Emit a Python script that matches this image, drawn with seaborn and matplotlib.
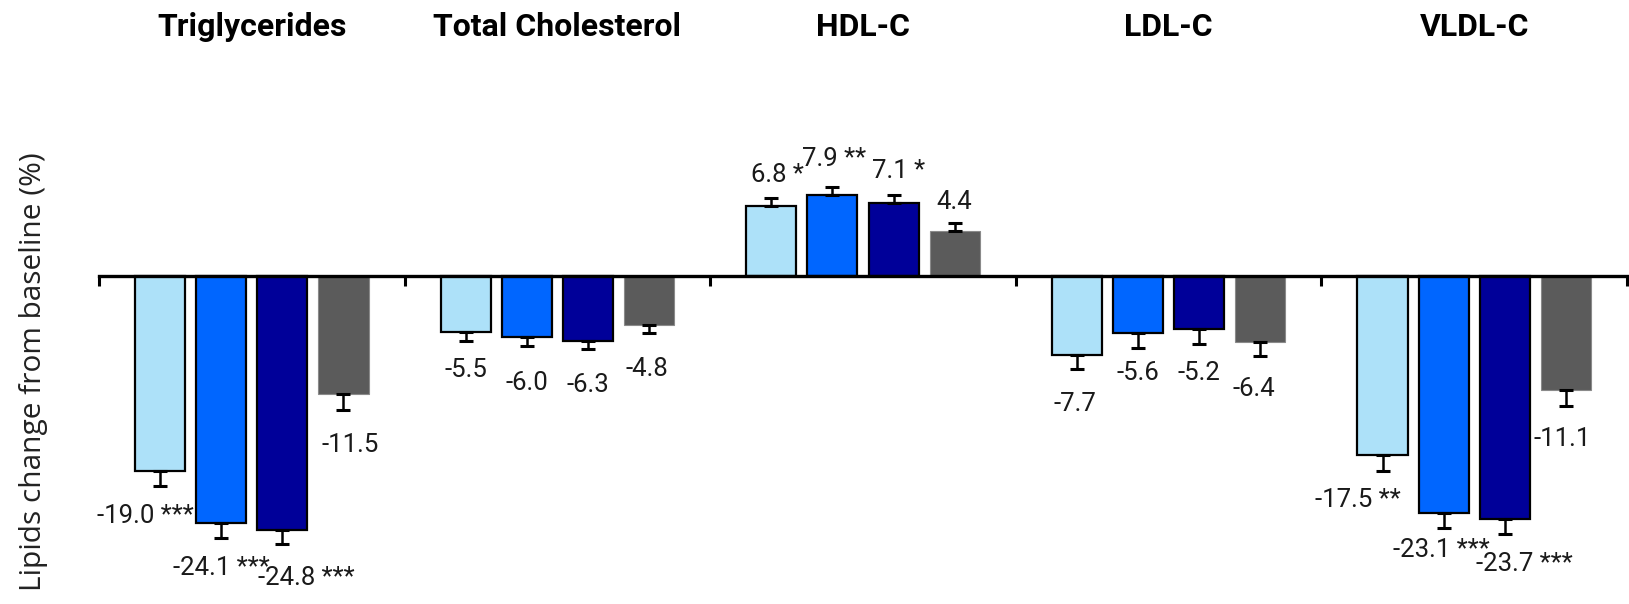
import matplotlib
matplotlib.use("Agg")
import matplotlib.pyplot as plt
import matplotlib.transforms as mtransforms
import numpy as np
import pandas as pd
import seaborn as sns

# Lipid parameters (panels) and treatment arms
lipids = ["Triglycerides", "Total Cholesterol", "HDL-C", "LDL-C", "VLDL-C"]
arms = ["Arm 1", "Arm 2", "Arm 3", "Arm 4"]

# Mean % change from baseline per arm, in lipid order
arm1_change = [-19.0, -5.5, 6.8, -7.7, -17.5]
arm2_change = [-24.1, -6.0, 7.9, -5.6, -23.1]
arm3_change = [-24.8, -6.3, 7.1, -5.2, -23.7]
arm4_change = [-11.5, -4.8, 4.4, -6.4, -11.1]

# Standard error per arm
arm1_se = [1.5, 0.8, 0.8, 1.4, 1.5]
arm2_se = [1.5, 0.8, 0.8, 1.4, 1.5]
arm3_se = [1.4, 0.85, 0.8, 1.4, 1.5]
arm4_se = [1.6, 0.8, 0.75, 1.4, 1.6]

# Significance markers per arm
arm1_sig = ["***", "", "*", "", "**"]
arm2_sig = ["***", "", "**", "", "***"]
arm3_sig = ["***", "", "*", "", "***"]
arm4_sig = ["", "", "", "", ""]

changes = [arm1_change, arm2_change, arm3_change, arm4_change]
errors = [arm1_se, arm2_se, arm3_se, arm4_se]
sigs = [arm1_sig, arm2_sig, arm3_sig, arm4_sig]

# Nudges (points) for value labels so neighbours don't collide
label_dx = [
    [-10.5, 0, 4.5, -1.5, -18],
    [0, 0, 1.5, 0, -1.5],
    [17, 0, 3.7, 0, 14],
    [4.5, -1.5, 0, -4.5, -3],
]
label_dy = [
    [0, 0, -1.5, -3.5, 0],
    [0, -5.5, 1.5, 3, 5.5],
    [-3, -4.5, -1.5, 0, 0],
    [-3.5, -4.5, -3, -2, -2],
]

colors = ["#ADE1F9", "#0066FF", "#000099", "#5B5B5B"]

df = pd.DataFrame(
    [(lip, arm, changes[j][i]) for j, arm in enumerate(arms) for i, lip in enumerate(lipids)],
    columns=["lipid", "arm", "change"],
)

sns.set_theme(style="white")
plt.rcParams["font.family"] = ["Roboto", "DejaVu Sans"]

W, H = 1629, 604
fig = plt.figure(figsize=(W / 100, H / 100), dpi=100)
ax = fig.add_axes([99 / W, 0, 1528 / W, 1])

sns.barplot(
    data=df, x="lipid", y="change", hue="arm", order=lipids, hue_order=arms,
    palette=colors, saturation=1, width=0.8, gap=0.18, errorbar=None,
    edgecolor="black", linewidth=1.6, legend=False, ax=ax,
)

bar_groups = list(ax.containers)
for j, cont in enumerate(bar_groups):
    for i, patch in enumerate(cont.patches):
        if j == 3:
            patch.set_edgecolor("#8A8A8A")
            patch.set_linewidth(0.8)
        v = changes[j][i]
        e = errors[j][i]
        xc = patch.get_x() + patch.get_width() / 2
        yerr = [[e], [0]] if v < 0 else [[0], [e]]
        ax.errorbar(xc, v, yerr=yerr, fmt="none", ecolor="black",
                    elinewidth=1.8, capsize=5.2, capthick=2.2, zorder=3)
        end = v - e if v < 0 else v + e
        dy = (-21.5 if v < 0 else 18.5) + label_dy[j][i]
        txt = f"{v:.1f}" + (f" {sigs[j][i]}" if sigs[j][i] else "")
        ax.annotate(txt, xy=(xc, end), xytext=(label_dx[j][i], dy),
                    textcoords="offset points", ha="center", va="center",
                    fontsize=18.5, color="#1a1a1a")

ax.set_xlim(-0.5, 4.5)
ax.set_ylim(-32.03, 26.95)

for s in ["top", "left", "right"]:
    ax.spines[s].set_visible(False)
ax.spines["bottom"].set_position(("data", 0))
ax.spines["bottom"].set_linewidth(2.4)
ax.spines["bottom"].set_color("black")
ax.spines["bottom"].set_zorder(4)
ax.set_xticks(np.arange(-0.5, 5, 1.0))
ax.set_xticklabels([])
ax.tick_params(axis="x", which="both", bottom=True, direction="out",
               length=7.5, width=2.2, color="black")
ax.set_yticks([])
ax.set_xlabel("")
ax.set_ylabel("")

# Panel titles above each group
trans = mtransforms.blended_transform_factory(ax.transData, ax.transAxes)
for i, lip in enumerate(lipids):
    ax.text(i, 1 - 27 / H, lip, transform=trans, ha="center", va="center",
            fontsize=23, fontweight="bold", color="black")

fig.text(34 / W, 1 - 372 / H, "Lipids change from baseline (%)", rotation=90,
         ha="center", va="center", fontsize=21.5, family=["Open Sans", "DejaVu Sans"],
         color="#222222")

fig.savefig("out.png", dpi=100)
